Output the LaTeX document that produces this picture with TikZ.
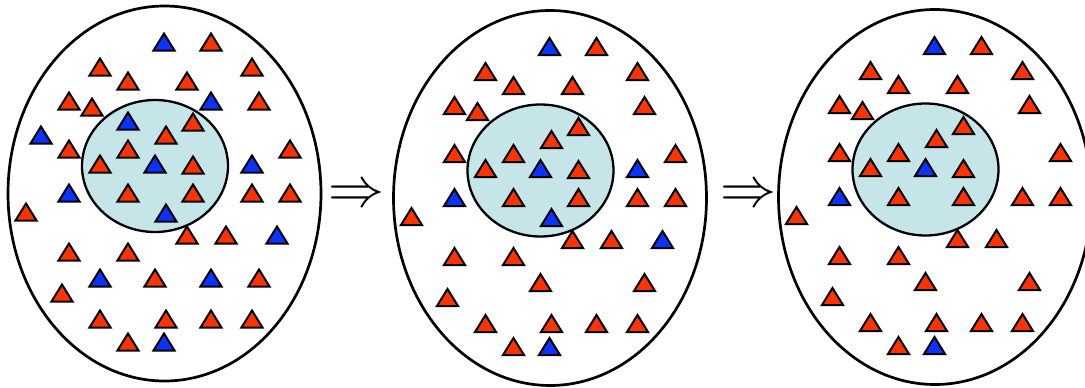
\documentclass[tikz,border=0pt]{standalone}
\definecolor{tred}{HTML}{FF3300}
\definecolor{tblue}{HTML}{0A33FF}
\definecolor{cellfill}{HTML}{C5E5E8}
\tikzset{
  tri/.style={draw=black,line width=2pt,line join=miter},
  outerell/.style={draw=black,line width=2.7pt},
  innerell/.style={draw=black,line width=2.3pt,fill=cellfill},
  arrowsym/.style={inner sep=0pt,scale=5.6}
}
\newcommand\mytri[3]{\filldraw[tri,fill=#1] (#2,#3) ++(0,-8.5) -- ++(10.5,17) -- ++(-21,0) -- cycle;}
\def\redlist{211/42,100/67,252/67,128/81,187/81,69/101,92/107,259/101,193/122,166/135,69/149,128/149,290/149,100/164,193/165,128/193,193/193,252/193,290/193,26/212,187/235,226/235,69/252,128/252,155/278,259/278,62/293,100/319,166/319,211/319,252/319,128/342}
\def\blueA{164/42,211/101,128/121,41/135,155/164,252/164,69/193,166/213,277/235,100/278,211/278,164/342}
\def\blueB{164/42,155/164,252/164,69/193,166/213,277/235,164/342}
\def\blueC{164/42,155/164,69/193,164/342}
\newcommand\cellpanel[1]{%
  \draw[outerell] (164.5,193.5) ellipse [x radius=156.5, y radius=187.5];
  \filldraw[innerell] (155,166) ellipse [x radius=73, y radius=66];
  \foreach \a/\b in \redlist {\mytri{tred}{\a}{\b}}
  \foreach \a/\b in #1 {\mytri{tblue}{\a}{\b}}
}
\begin{document}
\begin{tikzpicture}[x=1pt,y=-1pt]
\useasboundingbox (0,0) rectangle (1085,388);
\clip (0,0) rectangle (1085,388);
\begin{scope}
  \cellpanel{\blueA}
\end{scope}
\begin{scope}[shift={(385.5,4.5)}]
  \cellpanel{\blueB}
\end{scope}
\begin{scope}[shift={(770.5,3.5)}]
  \cellpanel{\blueC}
\end{scope}
\node[arrowsym] (arr1) at (356,196) {$\Rightarrow$};
\node[arrowsym] (arr2) at (748,196) {$\Rightarrow$};
\end{tikzpicture}
\end{document}
